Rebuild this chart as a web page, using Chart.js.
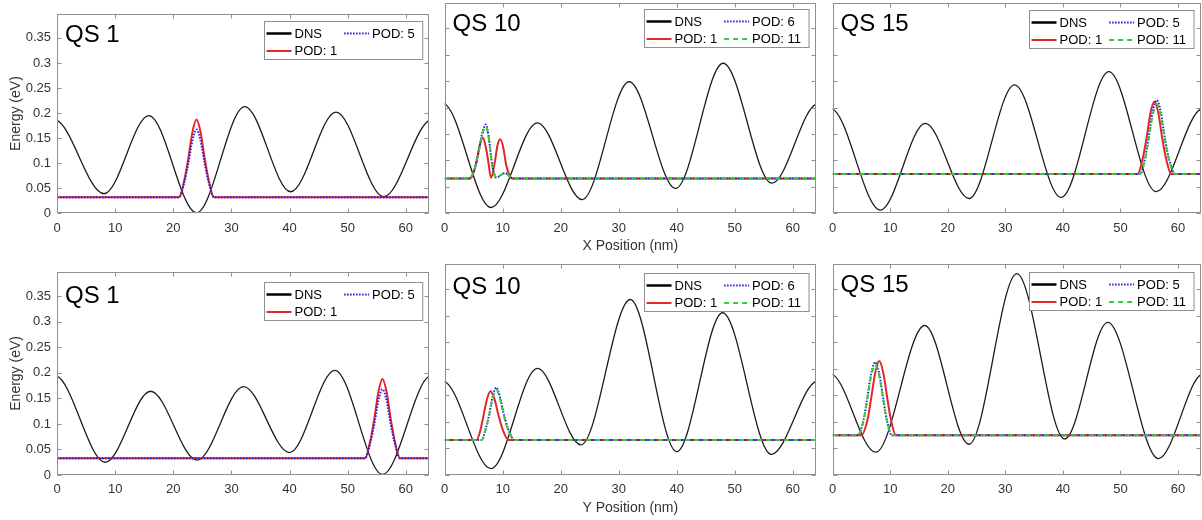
<!DOCTYPE html>
<html>
<head>
<meta charset="utf-8">
<script src="https://cdn.jsdelivr.net/npm/chart.js@4.4.1/dist/chart.umd.min.js"></script>
<style>
  html, body { margin: 0; padding: 0; background: #fff; }
  #fig { position: relative; width: 1202px; height: 520px; overflow: hidden; }
  .panel { position: absolute; }
</style>
</head>
<body>
<div id="fig"></div>
<script>
// ---- axes / text ----
const xTickValues = [0, 10, 20, 30, 40, 50, 60];
const yTickValues = [0, 0.05, 0.1, 0.15, 0.2, 0.25, 0.3, 0.35];
const xRange = [0, 64];
const yRange = [0, 0.398];
const panelNames = ['QS 1', 'QS 10', 'QS 15', 'QS 1', 'QS 10', 'QS 15'];
const xAxisTitles = ['X Position (nm)', 'Y Position (nm)'];
const yAxisTitle = 'Energy (eV)';

// DNS curves are periodic in the 64 nm cell, so the wells just outside the window are listed too

// ---- top row: along X ----
// QS 1
const qs1X_dns  = [[-7.8, 0.033], [-0.5, 0.187], [8.1, 0.039], [15.8, 0.195], [24.0, 0.001], [32.3, 0.213], [40.2, 0.043], [48.0, 0.202], [56.2, 0.033], [64.5, 0.187], [72.1, 0.039]];
const qs1X_pod1 = [[0, 0.032], [21.0, 0.032], [21.9, 0.066], [22.6, 0.110], [23.3, 0.162], [24.0, 0.187], [24.7, 0.162], [25.4, 0.110], [26.1, 0.066], [27.0, 0.032], [64, 0.032]];
const qs1X_pod5 = [[0, 0.032], [21.0, 0.032], [21.9, 0.062], [22.6, 0.100], [23.3, 0.145], [24.0, 0.167], [24.7, 0.145], [25.4, 0.100], [26.1, 0.062], [27.0, 0.032], [64, 0.032]];
// QS 10
const qs10X_dns   = [[-7.6, 0.057], [-0.3, 0.208], [8.0, 0.011], [16.0, 0.171], [23.7, 0.026], [31.8, 0.249], [39.8, 0.047], [48.0, 0.284], [56.4, 0.057], [64.3, 0.207], [72.0, 0.011]];
const qs10X_pod1  = [[0, 0.066], [4.4, 0.066], [5.0, 0.078], [5.6, 0.102], [6.1, 0.130], [6.6, 0.143], [7.1, 0.125], [7.5, 0.100], [8.0, 0.067], [8.7, 0.100], [9.1, 0.128], [9.6, 0.140], [10.1, 0.125], [10.6, 0.092], [11.1, 0.074], [11.6, 0.066], [64, 0.066]];
const qs10X_pod6  = [[0, 0.066], [4.2, 0.066], [5.0, 0.078], [5.7, 0.110], [6.5, 0.152], [7.1, 0.168], [7.6, 0.145], [8.1, 0.100], [8.5, 0.076], [8.9, 0.068], [10.4, 0.076], [11.8, 0.066], [64, 0.066]];
const qs10X_pod11 = [[0, 0.066], [4.2, 0.066], [5.0, 0.078], [5.7, 0.108], [6.5, 0.149], [7.1, 0.164], [7.6, 0.142], [8.1, 0.098], [8.5, 0.076], [8.9, 0.068], [10.4, 0.076], [11.8, 0.066], [64, 0.066]];
// QS 15
const qs15X_dns   = [[-7.8, 0.041], [-0.3, 0.198], [8.3, 0.006], [16.1, 0.170], [23.7, 0.028], [31.6, 0.243], [39.7, 0.030], [48.0, 0.268], [56.2, 0.041], [64.3, 0.198], [72.3, 0.006]];
const qs15X_pod1  = [[0, 0.0745], [53.0, 0.0745], [53.9, 0.105], [54.55, 0.143], [55.2, 0.189], [55.9, 0.211], [56.6, 0.189], [57.25, 0.143], [57.9, 0.105], [58.8, 0.0745], [64, 0.0745]];
const qs15X_pod5  = [[0, 0.0745], [53.4, 0.0745], [54.3, 0.105], [54.9, 0.144], [55.6, 0.192], [56.3, 0.214], [57.0, 0.192], [57.7, 0.144], [58.4, 0.105], [59.5, 0.0745], [64, 0.0745]];
const qs15X_pod11 = [[0, 0.0745], [53.4, 0.0745], [54.3, 0.103], [54.9, 0.140], [55.6, 0.185], [56.3, 0.206], [57.0, 0.185], [57.7, 0.140], [58.4, 0.103], [59.5, 0.0745], [64, 0.0745]];

// ---- bottom row: along Y ----
// QS 1
const qs1Y_dns  = [[-8.0, 0.001], [-0.4, 0.195], [8.3, 0.025], [16.1, 0.164], [24.1, 0.029], [32.1, 0.173], [40.0, 0.044], [47.8, 0.205], [56.0, 0.001], [64.4, 0.195], [72.3, 0.025]];
const qs1Y_pod1 = [[0, 0.033], [53.0, 0.033], [53.9, 0.067], [54.6, 0.111], [55.3, 0.163], [56.0, 0.188], [56.7, 0.163], [57.4, 0.111], [58.1, 0.067], [59.0, 0.033], [64, 0.033]];
const qs1Y_pod5 = [[0, 0.033], [53.0, 0.033], [53.9, 0.063], [54.6, 0.100], [55.3, 0.146], [56.0, 0.168], [56.7, 0.146], [57.4, 0.100], [58.1, 0.063], [59.0, 0.033], [64, 0.033]];
// QS 10
const qs10Y_dns   = [[-7.7, 0.039], [-0.3, 0.177], [8.0, 0.012], [16.0, 0.201], [23.5, 0.057], [32.0, 0.331], [40.0, 0.044], [47.9, 0.306], [56.3, 0.039], [64.3, 0.177], [72.0, 0.012]];
const qs10Y_pod1  = [[0, 0.066], [5.5, 0.066], [6.2, 0.086], [6.7, 0.112], [7.3, 0.143], [7.9, 0.158], [8.6, 0.143], [9.3, 0.112], [10.0, 0.086], [11.0, 0.066], [64, 0.066]];
const qs10Y_pod6  = [[0, 0.066], [6.4, 0.066], [7.1, 0.088], [7.7, 0.115], [8.3, 0.149], [8.9, 0.165], [9.5, 0.149], [10.2, 0.115], [10.9, 0.088], [12.1, 0.066], [64, 0.066]];
const qs10Y_pod11 = [[0, 0.066], [6.4, 0.066], [7.1, 0.087], [7.7, 0.113], [8.3, 0.146], [8.9, 0.161], [9.5, 0.146], [10.2, 0.113], [10.9, 0.087], [12.1, 0.066], [64, 0.066]];
// QS 15
const qs15Y_dns   = [[-7.4, 0.031], [-0.4, 0.191], [7.5, 0.043], [16.0, 0.282], [23.7, 0.058], [32.0, 0.380], [40.3, 0.068], [47.8, 0.288], [56.6, 0.031], [64.4, 0.191], [71.5, 0.043]];
const qs15Y_pod1  = [[0, 0.075], [5.0, 0.075], [6.1, 0.106], [6.7, 0.145], [7.4, 0.193], [8.1, 0.215], [8.8, 0.193], [9.5, 0.145], [10.1, 0.106], [11.0, 0.075], [64, 0.075]];
const qs15Y_pod5  = [[0, 0.075], [4.4, 0.075], [5.4, 0.105], [6.0, 0.144], [6.7, 0.191], [7.4, 0.213], [8.1, 0.191], [8.8, 0.144], [9.4, 0.105], [10.3, 0.075], [64, 0.075]];
const qs15Y_pod11 = [[0, 0.075], [4.4, 0.075], [5.4, 0.104], [6.0, 0.141], [6.7, 0.187], [7.4, 0.208], [8.1, 0.187], [8.8, 0.141], [9.4, 0.104], [10.3, 0.075], [64, 0.075]];

const panels = [
  { dns: qs1X_dns,  pods: [['POD: 1', qs1X_pod1], ['POD: 5', qs1X_pod5]] },
  { dns: qs10X_dns, pods: [['POD: 1', qs10X_pod1], ['POD: 6', qs10X_pod6], ['POD: 11', qs10X_pod11]] },
  { dns: qs15X_dns, pods: [['POD: 1', qs15X_pod1], ['POD: 5', qs15X_pod5], ['POD: 11', qs15X_pod11]] },
  { dns: qs1Y_dns,  pods: [['POD: 1', qs1Y_pod1], ['POD: 5', qs1Y_pod5]] },
  { dns: qs10Y_dns, pods: [['POD: 1', qs10Y_pod1], ['POD: 6', qs10Y_pod6], ['POD: 11', qs10Y_pod11]] },
  { dns: qs15Y_dns, pods: [['POD: 1', qs15Y_pod1], ['POD: 5', qs15Y_pod5], ['POD: 11', qs15Y_pod11]] }
];

const FONT = '"Liberation Sans", Arial, Helvetica, sans-serif';
const styles = [
  { color: '#e4262b', width: 2, dash: [] },        // POD: 1
  { color: '#1e1ee0', width: 2, dash: [1.5, 1.5] }, // POD: 5 / 6
  { color: '#33cc33', width: 2, dash: [5, 4] }     // POD: 11
];
const dnsStyle = { color: '#1c1c1c', width: 1.3, dash: [] };

// where each panel sits in the window (canvas box, plot box)
const frames = [
  { left: 0,   top: 0,   w: 434, h: 258, plot: [57, 429, 3, 213.3],      titleDy: 28, legDy: 7 },
  { left: 434, top: 0,   w: 388, h: 258, plot: [439.5, 816, 3, 213.3],   titleDy: 28, legDy: 6 },
  { left: 822, top: 0,   w: 380, h: 258, plot: [828.3, 1201, 3, 213.3],  titleDy: 28, legDy: 7 },
  { left: 0,   top: 258, w: 434, h: 262, plot: [57, 429, 264, 475],      titleDy: 31, legDy: 10 },
  { left: 434, top: 258, w: 388, h: 262, plot: [440.5, 816, 264, 475],   titleDy: 30, legDy: 9 },
  { left: 822, top: 258, w: 380, h: 262, plot: [829.3, 1201, 264, 475],  titleDy: 28, legDy: 8 }
];

function decorations(name, legendItems, titleDy, legDy) {
  return {
    id: 'decor',
    afterDatasetsDraw(chart) {
      const ctx = chart.ctx, a = chart.chartArea;
      const xs = chart.scales.x, ys = chart.scales.y;
      ctx.save();
      // box with inward ticks
      ctx.strokeStyle = '#8f8f8f';
      ctx.lineWidth = 1;
      const L = Math.round(a.left) + 0.5, R = Math.round(a.right) - 0.5;
      const T = Math.round(a.top) + 0.5, B = Math.round(a.bottom) - 0.5;
      ctx.strokeRect(L, T, R - L, B - T);
      ctx.beginPath();
      xTickValues.forEach(v => {
        const px = Math.round(xs.getPixelForValue(v)) + 0.5;
        ctx.moveTo(px, B); ctx.lineTo(px, B - 4);
        ctx.moveTo(px, T); ctx.lineTo(px, T + 4);
      });
      yTickValues.forEach(v => {
        const py = Math.round(ys.getPixelForValue(v)) + 0.5;
        ctx.moveTo(L, py); ctx.lineTo(L + 4, py);
        ctx.moveTo(R, py); ctx.lineTo(R - 4, py);
      });
      ctx.stroke();

      // panel name
      ctx.fillStyle = '#000';
      ctx.font = '24px ' + FONT;
      ctx.textBaseline = 'alphabetic';
      ctx.textAlign = 'left';
      ctx.fillText(name, a.left + 8, a.top + titleDy);

      // legend, two columns filled column by column
      ctx.font = '13px ' + FONT;
      const cols = [legendItems.slice(0, 2), legendItems.slice(2)];
      const colW = cols.map(c => 30 + Math.max(...c.map(it => ctx.measureText(it.label).width)) + 5);
      const boxW = colW[0] + colW[1] + 3;
      const boxH = 38;
      const bx = Math.round(a.right - 7 - boxW) + 0.5;
      const by = Math.round(a.top + legDy) + 0.5;
      ctx.fillStyle = '#fff';
      ctx.fillRect(bx, by, boxW, boxH);
      ctx.strokeStyle = '#8f8f8f';
      ctx.lineWidth = 1;
      ctx.setLineDash([]);
      ctx.strokeRect(bx, by, boxW, boxH);
      let cx = bx + 2;
      cols.forEach((c, ci) => {
        c.forEach((it, ri) => {
          const y = by + 12 + ri * 17.5;
          ctx.beginPath();
          ctx.strokeStyle = it.color;
          ctx.lineWidth = it.width;
          ctx.setLineDash(it.dash);
          ctx.moveTo(cx, y); ctx.lineTo(cx + 25, y);
          ctx.stroke();
          ctx.setLineDash([]);
          ctx.fillStyle = '#000';
          ctx.textBaseline = 'middle';
          ctx.fillText(it.label, cx + 28, y + 0.5);
        });
        cx += colW[ci];
      });
      ctx.restore();
    }
  };
}

const fig = document.getElementById('fig');

panels.forEach((p, i) => {
  const f = frames[i];
  const col = i % 3, row = Math.floor(i / 3);
  const div = document.createElement('div');
  div.className = 'panel';
  div.style.left = f.left + 'px';
  div.style.top = f.top + 'px';
  div.style.width = f.w + 'px';
  div.style.height = f.h + 'px';
  const canvas = document.createElement('canvas');
  canvas.width = f.w;
  canvas.height = f.h;
  div.appendChild(canvas);
  fig.appendChild(div);

  const yW = f.plot[0] - f.left;
  const padR = f.left + f.w - f.plot[1];
  const padT = f.plot[2] - f.top;
  const xH = f.top + f.h - f.plot[3];

  // plot order as in the original: DNS at the bottom, later modes on top
  const datasets = [{
    label: 'DNS', data: p.dns, order: 10,
    borderColor: dnsStyle.color, borderWidth: dnsStyle.width
  }];
  p.pods.forEach((pd, k) => {
    datasets.push({
      label: pd[0], data: pd[1], order: 5 - k,
      borderColor: styles[k].color, borderWidth: styles[k].width, borderDash: styles[k].dash
    });
  });
  datasets.forEach(d => {
    d.pointRadius = 0;
    d.fill = false;
    d.clip = 0;
    d.capBezierPoints = false;
    d.cubicInterpolationMode = 'monotone';
  });

  // legend order: DNS, POD 1 | second mode, third mode
  const legendItems = [{ label: 'DNS', color: '#000', width: 2.5, dash: [] }];
  p.pods.forEach((pd, k) => legendItems.push({ label: pd[0], color: styles[k].color, width: 2, dash: styles[k].dash }));

  new Chart(canvas, {
    type: 'line',
    data: { datasets },
    options: {
      responsive: false,
      animation: false,
      devicePixelRatio: 1,
      layout: { padding: { left: 0, right: padR, top: padT, bottom: 0 } },
      plugins: { legend: { display: false }, tooltip: { enabled: false } },
      scales: {
        x: {
          type: 'linear',
          bounds: 'data',
          // window set after the data limits so every point keeps its place in the spline
          afterDataLimits: s => { s.min = xRange[0]; s.max = xRange[1]; },
          afterBuildTicks: s => {
            s.min = xRange[0]; s.max = xRange[1];
            s.ticks = xTickValues.map(v => ({ value: v }));
          },
          afterFit: s => { s.height = xH; },
          grid: { display: false, drawTicks: false },
          border: { display: false },
          ticks: { padding: 7, color: '#333', font: { family: FONT, size: 13 }, maxRotation: 0, autoSkip: false, callback: v => String(v) },
          title: { display: col === 1, text: xAxisTitles[row], color: '#333', font: { family: FONT, size: 14 }, padding: { top: 0, bottom: 3.6 } }
        },
        y: {
          type: 'linear', min: yRange[0], max: yRange[1],
          afterFit: s => { s.width = yW; },
          afterBuildTicks: s => { s.ticks = yTickValues.map(v => ({ value: v })); },
          grid: { display: false, drawTicks: false },
          border: { display: false },
          ticks: { display: col === 0, padding: 6, color: '#333', font: { family: FONT, size: 13 }, callback: v => String(v) },
          title: { display: col === 0, text: yAxisTitle, color: '#333', font: { family: FONT, size: 14 }, padding: { top: 8, bottom: 0 } }
        }
      }
    },
    plugins: [decorations(panelNames[i], legendItems, f.titleDy, f.legDy)]
  });
});
</script>
</body>
</html>
